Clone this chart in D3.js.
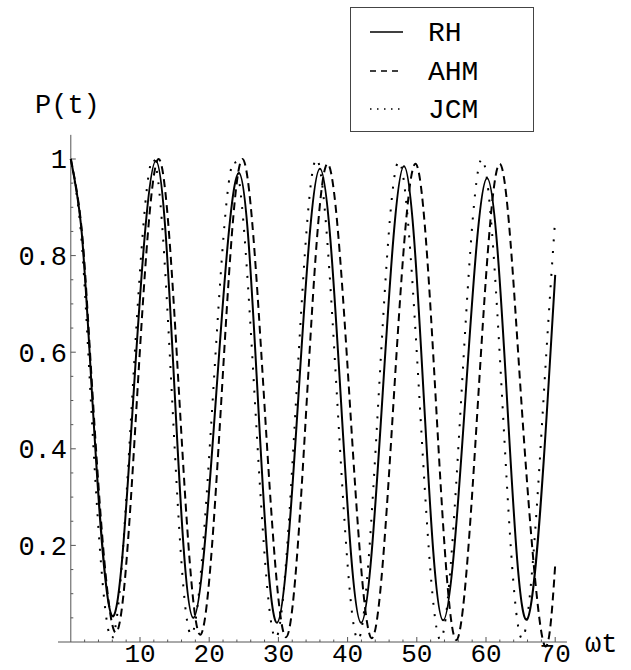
<!DOCTYPE html>
<html>
<head>
<meta charset="utf-8">
<script src="https://cdn.jsdelivr.net/npm/d3@7"></script>
<style>
  body { margin: 0; background: #fff; }
  svg { display: block; }
</style>
</head>
<body>
<div id="chart"></div>
<script>
// values: time (ωt) and probability P(t)
const rhT  = [0, 1.5, 3.0, 5.96, 9.1, 12.3, 15.0, 17.7, 21.0, 24.3, 27.05, 29.8, 32.9, 36.0, 39.0, 41.95, 45.05, 48.15, 51.0, 53.8, 57.0, 60.15, 63.05, 65.95, 68.9, 70];
const rhP  = [1, 0.86, 0.53, 0.054, 0.52, 0.996, 0.52, 0.05, 0.51, 0.971, 0.5, 0.04, 0.51, 0.98, 0.51, 0.04, 0.51, 0.985, 0.51, 0.045, 0.5, 0.96, 0.5, 0.047, 0.5, 0.76];

const ahmT = [0, 1.6, 3.2, 6.4, 9.55, 12.7, 15.7, 18.7, 21.75, 24.8, 27.95, 31.1, 34.1, 37.1, 40.3, 43.5, 46.65, 49.8, 52.75, 55.7, 58.85, 62.0, 65.1, 68.2, 70];
const ahmP = [1, 0.85, 0.5, 0.02, 0.5, 1.0, 0.5, 0.015, 0.5, 1.0, 0.5, 0.01, 0.5, 0.99, 0.5, 0.008, 0.5, 0.99, 0.5, 0.004, 0.5, 0.99, 0.5, 0.005, 0.16];

const jcmT = [0, 1.45, 2.9, 5.8, 8.85, 11.9, 14.65, 17.4, 20.5, 23.6, 26.6, 29.6, 32.55, 35.5, 38.5, 41.5, 44.45, 47.4, 50.4, 53.4, 56.4, 59.4, 62.35, 65.3, 68.3, 70];
const jcmP = [1, 0.85, 0.5, 0.008, 0.5, 1.0, 0.5, 0.015, 0.5, 0.995, 0.5, 0.008, 0.5, 1.0, 0.5, 0.005, 0.5, 0.995, 0.5, 0.005, 0.5, 1.0, 0.5, 0.008, 0.5, 0.876];

const xMajor = [10, 20, 30, 40, 50, 60, 70];
const yMajor = [0.2, 0.4, 0.6, 0.8, 1];
const yLabels = ["0.2", "0.4", "0.6", "0.8", "1"];

const seriesNames = ["RH", "AHM", "JCM"];

const W = 631, H = 670;
const mono = "'Liberation Mono', 'Courier New', monospace";

const svg = d3.select("#chart").append("svg")
  .attr("width", W)
  .attr("height", H)
  .attr("viewBox", `0 0 ${W} ${H}`);

svg.append("rect").attr("width", W).attr("height", H).attr("fill", "#fff");

// scales: 0..10 -> 70.8..140, 0..1 -> 642..159
const x = d3.scaleLinear().domain([0, 10]).range([70.8, 140]);
const y = d3.scaleLinear().domain([0, 1]).range([642, 159]);

const axisColor = "#555";

// axes lines
svg.append("line")
  .attr("x1", 58).attr("x2", x(71.7))
  .attr("y1", y(0)).attr("y2", y(0))
  .attr("stroke", axisColor).attr("stroke-width", 1);

svg.append("line")
  .attr("x1", x(0)).attr("x2", x(0))
  .attr("y1", y(0)).attr("y2", y(1.05))
  .attr("stroke", axisColor).attr("stroke-width", 1);

// x ticks
const xMinor = d3.range(2, 72, 2).filter(v => v % 10 !== 0);
svg.append("g").selectAll("line.xmin").data(xMinor).join("line")
  .attr("x1", d => x(d)).attr("x2", d => x(d))
  .attr("y1", y(0)).attr("y2", y(0) - 2.5)
  .attr("stroke", axisColor);
svg.append("g").selectAll("line.xmaj").data(xMajor).join("line")
  .attr("x1", d => x(d)).attr("x2", d => x(d))
  .attr("y1", y(0)).attr("y2", y(0) - 5)
  .attr("stroke", axisColor);
svg.append("g").selectAll("text").data(xMajor).join("text")
  .attr("x", d => x(d))
  .attr("y", 662)
  .attr("text-anchor", "middle")
  .style("font-family", mono)
  .style("font-size", "26px")
  .style("fill", "#000")
  .text(d => d);

// y ticks
const yMinor = d3.range(1, 21).map(i => i * 0.05).filter(v => Math.abs(v * 5 - Math.round(v * 5)) > 1e-6);
svg.append("g").selectAll("line").data(yMinor).join("line")
  .attr("x1", x(0)).attr("x2", x(0) + 2.5)
  .attr("y1", d => y(d)).attr("y2", d => y(d))
  .attr("stroke", axisColor);
svg.append("g").selectAll("line").data(yMajor).join("line")
  .attr("x1", x(0)).attr("x2", x(0) + 5)
  .attr("y1", d => y(d)).attr("y2", d => y(d))
  .attr("stroke", axisColor);
svg.append("g").selectAll("text").data(yMajor).join("text")
  .attr("x", 67)
  .attr("y", d => y(d))
  .attr("dy", "0.35em")
  .attr("text-anchor", "end")
  .style("font-family", mono)
  .style("font-size", "27px")
  .style("fill", "#000")
  .text((d, i) => yLabels[i]);

// axis titles
svg.append("text")
  .attr("x", 35).attr("y", 113)
  .style("font-family", mono)
  .style("font-size", "27px")
  .text("P(t)");

svg.append("text")
  .attr("x", 585).attr("y", 652)
  .style("font-family", mono)
  .style("font-size", "27px")
  .text("ωt");

// curves
const line = d3.line()
  .x(d => x(d[0]))
  .y(d => y(d[1]))
  .curve(d3.curveNatural);

const curves = [
  { pts: d3.zip(rhT, rhP), dash: null },
  { pts: d3.zip(ahmT, ahmP), dash: "8,5" },
  { pts: d3.zip(jcmT, jcmP), dash: "2,9.5" }
];

svg.append("g").selectAll("path").data(curves).join("path")
  .attr("d", d => line(d.pts))
  .attr("fill", "none")
  .attr("stroke", "#000")
  .attr("stroke-width", 2)
  .attr("stroke-dasharray", d => d.dash);

// legend
const legend = svg.append("g");
legend.append("rect")
  .attr("x", 350.5).attr("y", 7.5)
  .attr("width", 183).attr("height", 124)
  .attr("fill", "#fff")
  .attr("stroke", "#444")
  .attr("stroke-width", 1);

const legendDash = [null, "6,5", "1.5,5.5"];
const legendY = [32, 71, 109];
seriesNames.forEach((name, i) => {
  legend.append("line")
    .attr("x1", 370).attr("x2", 403)
    .attr("y1", legendY[i]).attr("y2", legendY[i])
    .attr("stroke", "#000")
    .attr("stroke-width", 1.3)
    .attr("stroke-dasharray", legendDash[i]);
  legend.append("text")
    .attr("x", 428)
    .attr("y", legendY[i] + 9)
    .style("font-family", mono)
    .style("font-size", "28px")
    .text(name);
});
</script>
</body>
</html>
